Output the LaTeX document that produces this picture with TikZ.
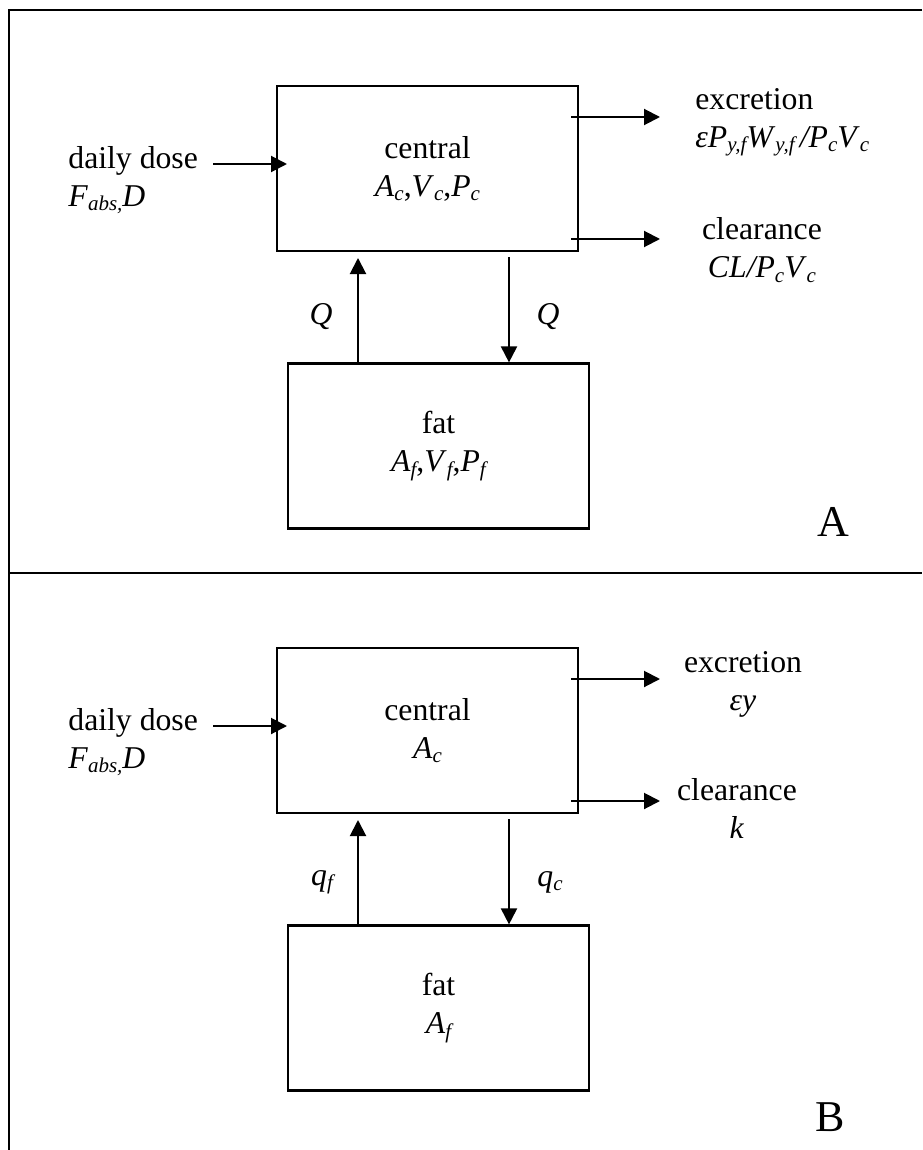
\documentclass[tikz,border=0pt]{standalone}
\usepackage{fontspec}
\setmainfont{Liberation Serif}
\usetikzlibrary{arrows.meta}
\newcommand{\lo}[1]{\raisebox{-0.3ex}{\fontsize{10.5}{10.5}\selectfont\itshape #1}}

\begin{document}
\begin{tikzpicture}[x=0.5pt,y=-0.5pt,
  every node/.style={font=\fontsize{15.86}{19}\selectfont, inner sep=0pt},
  comp/.style={draw, line width=1.1pt, minimum width=150.5pt, minimum height=82.5pt, align=center},
  flow/.style={-{Triangle[length=8pt,width=8pt]}, line width=1pt},
  frame/.style={line width=1.2pt},
  tag/.style={font=\fontsize{22}{22}\selectfont}]

 \useasboundingbox (0,0) rectangle (922,1150);
 \draw[frame] (922,10) -- (9,10) -- (9,1150);
 \draw[frame] (9,573) -- (922,573);

 % panel A
 \node[comp] (cenA) at (427.5,168.5) {central\\\textit{A}\lo{c},\textit{V}\lo{c},\textit{P}\lo{c}};
 \node[comp] (fatA) at (438.5,446) {fat\\\textit{A}\lo{f},\textit{V}\lo{f},\textit{P}\lo{f}};
 \node[anchor=west, align=left] (doseA) at (68,180) {daily dose\\\textit{F}\lo{abs,}\textit{D}};
 \node[anchor=west, align=left] (excA) at (695,122) {excretion\\\textit{εP}\lo{y,f}\textit{W}\lo{y,f}\,\textit{/P}\lo{c}\textit{V}\lo{c}};
 \node[align=center] (clrA) at (762,250) {clearance\\\textit{CL/P}\lo{c}\textit{V}\lo{c}};
 \node (QupA) at (321,317) {\textit{Q}};
 \node (QdnA) at (548,317) {\textit{Q}};
 \node[tag] (tagA) at (833,522) {A};

 \coordinate (inA) at (287,164);
 \coordinate (exA) at (660,117);
 \coordinate (clA) at (660,239);
 \coordinate (upA) at (358,258);
 \coordinate (dnA) at (509,257);
 \draw[flow] ([xshift=7.5pt]doseA.east |- inA) -- (inA);
 \draw[flow] ([xshift=-4pt]cenA.east |- exA) -- (exA);
 \draw[flow] ([xshift=-4pt]cenA.east |- clA) -- (clA);
 \draw[flow] (fatA.north -| upA) -- (upA);
 \draw[flow] (dnA) -- (fatA.north -| dnA);

 % panel B
 \node[comp] (cenB) at (427.5,730.5) {central\\\textit{A}\lo{c}};
 \node[comp] (fatB) at (438.5,1008) {fat\\\textit{A}\lo{f}};
 \node[anchor=west, align=left] (doseB) at (68,742) {daily dose\\\textit{F}\lo{abs,}\textit{D}};
 \node[align=center] (excB) at (743,684) {excretion\\\textit{εy}};
 \node[align=center] (clrB) at (737,808) {clearance\\\textit{k}};
 \node (qupB) at (322,882) {\textit{q}\lo{f}};
 \node (qdnB) at (550,882) {\textit{q}\lo{c}};
 \node[tag] (tagB) at (830,1117) {B};

 \coordinate (inB) at (287,726);
 \coordinate (exB) at (660,679);
 \coordinate (clB) at (660,801);
 \coordinate (upB) at (358,820);
 \coordinate (dnB) at (509,819);
 \draw[flow] ([xshift=7.5pt]doseB.east |- inB) -- (inB);
 \draw[flow] ([xshift=-4pt]cenB.east |- exB) -- (exB);
 \draw[flow] ([xshift=-4pt]cenB.east |- clB) -- (clB);
 \draw[flow] (fatB.north -| upB) -- (upB);
 \draw[flow] (dnB) -- (fatB.north -| dnB);

\end{tikzpicture}
\end{document}
